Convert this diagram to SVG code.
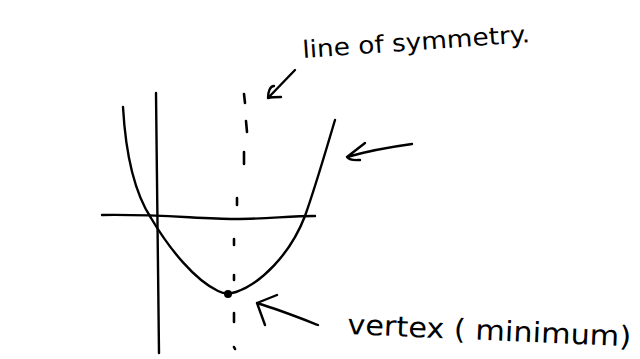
<svg xmlns="http://www.w3.org/2000/svg" width="640" height="359" viewBox="0 0 640 359">
<style>
.ink{fill:none;stroke:#000;stroke-width:2.4;stroke-linecap:round;stroke-linejoin:round}
.dash{fill:none;stroke:#000;stroke-width:2.6;stroke-linecap:round}
.lbl{font-family:"DejaVu Sans","Liberation Sans",sans-serif;font-weight:normal;fill:#000}
</style>
<rect width="640" height="359" fill="#fff"/>
<g id="axes">
<path class="ink" d="M156,93 C157,180 158,270 159,353"/>
<path class="ink" d="M102,215 C160,214 200,219 235,219 C265,219 290,216 315,216"/>
</g>
<g id="parabola">
<path class="ink" d="M123,107 C126,160 136,195 151,218 C170,250 195,280 218,291 C224,294 230,294 236,292 C260,284 290,255 305,216 C316,185 326,150 335,120"/>
<circle cx="228" cy="294" r="4" fill="#000"/>
</g>
<g id="symmetry-line">
<path class="dash" d="M244,94 L245,103 M246,121 L247,132 M244,152 L244,164 M237,198 L237,205 M234,239 L234,245 M234,275 L234,280 M234,313 L234,322 M234,347 L235,349"/>
</g>
<g id="label-symmetry">
<text class="lbl" x="303" y="58" font-size="24" transform="rotate(-4 303 58)" textLength="228" lengthAdjust="spacingAndGlyphs">line of symmetry.</text>
</g>
<g id="label-vertex">
<text class="lbl" x="347" y="334" font-size="28" transform="rotate(2.5 347 334)" textLength="284" lengthAdjust="spacingAndGlyphs">vertex ( minimum)</text>
</g>
<g id="connectors">
<path class="ink" d="M295,70 L268,98 M268,98 C268,92 270,86 274,86 M268,98 C272,97 277,97 281,97"/>
<path class="ink" d="M412,144 C390,147 368,151 347,157 M347,157 L365,143 M347,157 C350,161 356,160 360,160"/>
<path class="ink" d="M318,325 C300,318 280,310 257,303 M257,303 L277,295 M257,303 L265,325"/>
</g>
</svg>
